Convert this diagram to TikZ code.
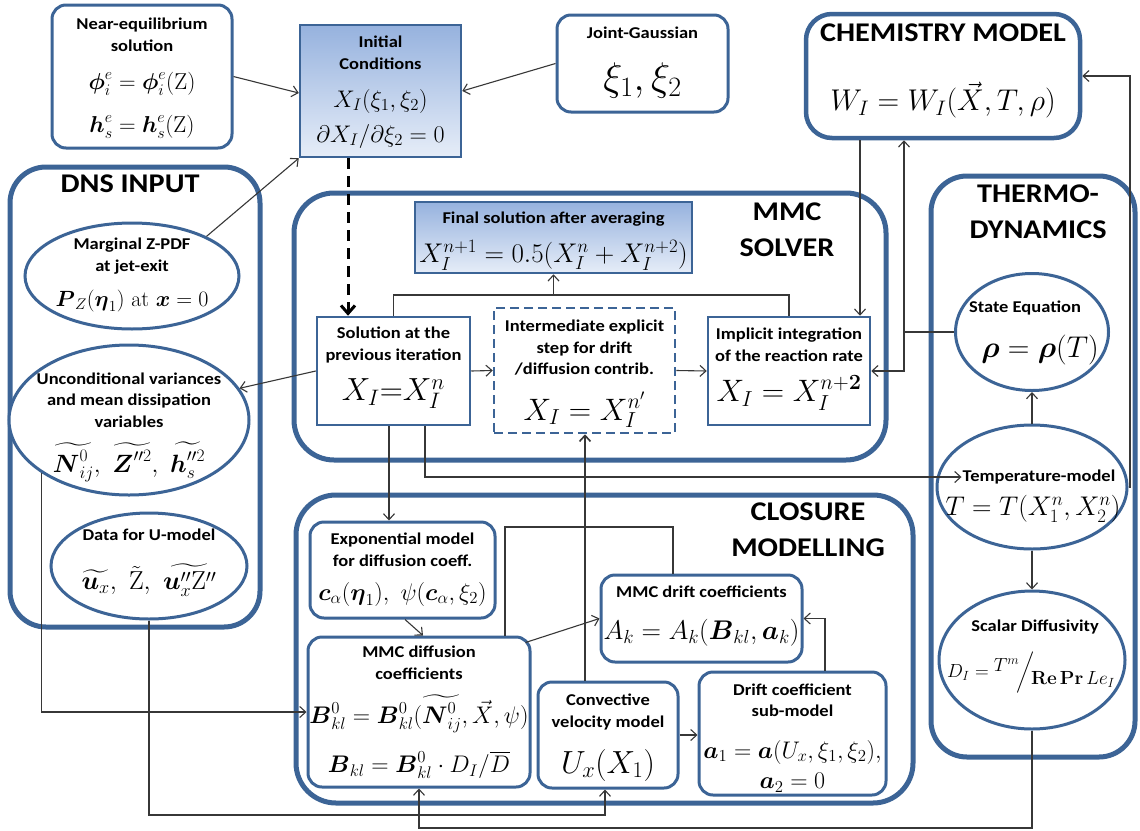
\RequirePackage{fix-cm}
\documentclass[tikz,border=0pt]{standalone}
\usepackage{amsmath}
\usepackage[no-math]{fontspec}
\newfontfamily\labfont{Carlito}[FakeStretch=1.12]
\usetikzlibrary{arrows.meta,shapes.geometric,calc}
\definecolor{bblue}{RGB}{60,100,150}
\definecolor{gtop}{RGB}{150,178,222}
\definecolor{gbot}{RGB}{230,237,248}
\definecolor{lnc}{RGB}{55,55,55}
\begin{document}
\begin{tikzpicture}[x=1pt,y=-1pt,
  bx/.style={draw=bblue, line width=3pt, rounded corners=14pt, fill=white, inner sep=0pt},
  sq/.style={draw=bblue, line width=2.5pt, inner sep=0pt},
  big/.style={draw=bblue, line width=5pt, rounded corners=36pt, inner sep=0pt},
  ell/.style={ellipse, draw=bblue, line width=3pt, fill=white, inner sep=0pt},
  lab/.style={font=\labfont\bfseries\fontsize{16.5}{21.5}\selectfont, align=center, inner sep=1pt},
  head/.style={font=\labfont\bfseries\fontsize{27}{36}\selectfont, align=center, inner sep=1pt},
  eqsize/.style={font=\fontsize{#1}{#1}\selectfont, inner sep=1pt},
  con/.style={draw=lnc, line width=1.1pt},
  arr/.style={con, -{Straight Barb[length=6pt,width=11pt]}}]
\useasboundingbox (0,0) rectangle (1140,830);
\fill[white] (0,0) rectangle (1140,830);

% containers
\node[big, minimum width=250pt, minimum height=460pt] (dns) at (135,397) {};
\node[big, rounded corners=40pt, minimum width=592pt, minimum height=267pt] (mmc) at (590,326.5) {};
\node[big, rounded corners=40pt, minimum width=617pt, minimum height=308pt] (clo) at (604.5,649) {};
\node[big, minimum width=204pt, minimum height=581pt] (thermo) at (1033,466.5) {};
\node[bx, line width=4.5pt, rounded corners=26pt, minimum width=274pt, minimum height=124pt] (chem) at (943,76) {};

% top boxes
\node[bx, minimum width=180pt, minimum height=143pt] (nearq) at (142,76.5) {};
\node[sq, top color=gtop, bottom color=gbot, minimum width=161pt, minimum height=132pt] (init) at (380.5,91) {};
\node[bx, minimum width=171pt, minimum height=97pt] (jg) at (642.5,63.5) {};

% DNS ellipses
\node[ell, minimum width=214pt, minimum height=106pt] (marg) at (132,276) {};
\node[ell, minimum width=240pt, minimum height=150pt] (uncond) at (129,420) {};
\node[ell, minimum width=196pt, minimum height=106pt] (udata) at (149,566) {};

% solver boxes
\node[sq, top color=gtop, bottom color=gbot, minimum width=277pt, minimum height=71pt] (final) at (553.5,237.5) {};
\node[sq, fill=white, minimum width=153pt, minimum height=108pt] (sol) at (393.5,371) {};
\node[sq, fill=white, dash pattern=on 9pt off 5pt, minimum width=181pt, minimum height=125pt] (inter) at (584.5,370.5) {};
\node[sq, fill=white, minimum width=162pt, minimum height=108pt] (impl) at (789,371) {};

% closure boxes
\node[bx, minimum width=185pt, minimum height=96pt] (expo) at (402.5,570) {};
\node[bx, minimum width=222pt, minimum height=150pt] (mdiff) at (419,712) {};
\node[bx, minimum width=201pt, minimum height=87pt] (mdrift) at (701.5,618.5) {};
\node[bx, minimum width=140pt, minimum height=106pt] (conv) at (608,735) {};
\node[bx, minimum width=187pt, minimum height=123pt] (dsub) at (792.5,733.5) {};

% thermo ellipses
\node[ell, minimum width=153pt, minimum height=117pt] (steq) at (1032,332) {};
\node[ell, minimum width=190pt, minimum height=124pt] (temp) at (1032,487) {};
\node[ell, minimum width=186pt, minimum height=138pt] (scal) at (1032,660) {};

% texts
\node[lab] (nearqT) at (142,35) {Near-equilibrium\\solution};
\node[eqsize=23] (nearqE1) at (142,84) {$\boldsymbol{\phi}_i^e=\boldsymbol{\phi}_i^e(\mathrm{Z})$};
\node[eqsize=23] (nearqE2) at (142,127) {$\boldsymbol{h}_s^e=\boldsymbol{h}_s^e(\mathrm{Z})$};
\node[lab] (initT) at (380.5,53) {Initial\\Conditions};
\node[eqsize=24] (initE1) at (380.5,101) {$X_I(\xi_1,\xi_2)$};
\node[eqsize=24] (initE2) at (380.5,136) {$\partial X_I/\partial\xi_2=0$};
\node[lab] (jgT) at (642.5,33) {Joint-Gaussian};
\node[eqsize=40] (jgE) at (642.5,80) {$\xi_1,\xi_2$};
\node[head] (chemT) at (943,33) {CHEMISTRY MODEL};
\node[eqsize=30] (chemE) at (943,100) {$W_I=W_I(\vec{X},T,\rho)$};
\node[head] (dnsT) at (130,184) {DNS INPUT};
\node[lab] (margT) at (132,256) {Marginal Z-PDF\\at jet-exit};
\node[eqsize=22] (margE) at (132,301) {$\boldsymbol{P}_Z(\boldsymbol{\eta}_1)\ \mathrm{at}\ \boldsymbol{x}=0$};
\node[lab] (uncT) at (129,400) {Unconditional variances\\and mean dissipation\\variables};
\node[eqsize=25] (uncE) at (129,462) {$\widetilde{\boldsymbol{N}_{ij}^{0}},\ \widetilde{\boldsymbol{Z}^{\prime\prime 2}},\ \widetilde{\boldsymbol{h}_s^{\prime\prime 2}}$};
\node[lab] (udT) at (149,535) {Data for U-model};
\node[eqsize=26] (udE) at (149,580) {$\widetilde{\boldsymbol{u}_x},\ \tilde{\mathrm{Z}},\ \widetilde{\boldsymbol{u}_x^{\prime\prime}\mathrm{Z}^{\prime\prime}}$};
\node[head] (mmcT) at (787,230) {MMC\\SOLVER};
\node[lab] (finT) at (553.5,219) {Final solution after averaging};
\node[eqsize=27] (finE) at (553.5,255) {$X_I^{n+1}=0.5(X_I^{n}+X_I^{n+2})$};
\node[lab] (solT) at (393.5,345) {Solution at the\\previous iteration};
\node[eqsize=32] (solE) at (393.5,394) {$X_I{=}X_I^n$};
\node[lab] (intT) at (584.5,348) {Intermediate explicit\\step for drift\\/diffusion contrib.};
\node[eqsize=31] (intE) at (584.5,410) {$X_I=X_I^{n'}$};
\node[lab] (impT) at (789,345) {Implicit integration\\of the reaction rate};
\node[eqsize=31] (impE) at (789,393) {$X_I=X_I^{n+\mathbf{2}}$};
\node[head] (cloT) at (808,530) {CLOSURE\\MODELLING};
\node[lab] (expT) at (402.5,550) {Exponential model\\for diffusion coeff.};
\node[eqsize=24] (expE) at (402.5,594) {$\boldsymbol{c}_\alpha(\boldsymbol{\eta}_1),\ \psi(\boldsymbol{c}_\alpha,\xi_2)$};
\node[lab] (mdfT) at (419,663) {MMC diffusion\\coefficients};
\node[eqsize=24] (mdfE1) at (419,714) {$\boldsymbol{B}_{kl}^0=\boldsymbol{B}_{kl}^0(\widetilde{\boldsymbol{N}_{ij}^0},\vec{X},\psi)$};
\node[eqsize=24] (mdfE2) at (419,765) {$\boldsymbol{B}_{kl}=\boldsymbol{B}_{kl}^0\cdot D_I/\overline{D}$};
\node[lab] (mdrT) at (701.5,592) {MMC drift coefficients};
\node[eqsize=27] (mdrE) at (701.5,633) {$A_k=A_k(\boldsymbol{B}_{kl},\boldsymbol{a}_k)$};
\node[lab] (cnvT) at (608,712) {Convective\\velocity model};
\node[eqsize=32] (cnvE) at (608,765) {$U_x(X_1)$};
\node[lab] (dsT) at (792.5,700) {Drift coefficient\\sub-model};
\node[eqsize=24] (dsE1) at (792.5,752) {$\boldsymbol{a}_1=\boldsymbol{a}(U_x,\xi_1,\xi_2),$};
\node[eqsize=24] (dsE2) at (792.5,783) {$\boldsymbol{a}_2=0$};
\node[head] (thT) at (1038,212) {THERMO-\\DYNAMICS};
\node[lab] (stT) at (1025,308) {State Equation};
\node[eqsize=30] (stE) at (1040,350) {$\boldsymbol{\rho}=\boldsymbol{\rho}(T)$};
\node[lab] (tmT) at (1039,477) {Temperature-model};
\node[eqsize=27] (tmE) at (1033,509) {$T=T(X_1^n,X_2^n)$};
\node[lab] (scT) at (1035,627) {Scalar Diffusivity};
\node[eqsize=19] (scE) at (1031,673) {$D_I=\raisebox{6pt}{$T^m$}\!\bigg/\!\raisebox{-7pt}{$\mathbf{Re}\,\mathbf{Pr}\,Le_I$}$};

% helper coordinates
\coordinate (d1) at ([xshift=-32.5pt]init.south);
\coordinate (top) at (553.5,295);
\coordinate (c389) at ([xshift=-4.5pt]sol.south);
\coordinate (c425) at ([xshift=31.5pt]sol.south);
\coordinate (c860) at ([xshift=-83pt]chem.south);
\coordinate (jn) at (904,332);
\coordinate (rt) at (1130,0);
\coordinate (hb) at (585,527);
\coordinate (c505) at ([xshift=86pt]mdiff.north);
\coordinate (c673) at ([xshift=-28.5pt]mdrift.north);
\coordinate (c585) at ([xshift=-23pt]conv.north);
\coordinate (c825) at ([xshift=32.5pt]dsub.north);
\coordinate (cv) at ([xshift=-3pt]conv.south);
\coordinate (bl1) at (0,815);
\coordinate (bl2) at (0,828);

% connectors
\draw[arr] (nearq.east) -- ([yshift=-2pt]init.west);
\draw[arr] (jg.west) -- (init.east);
\draw[arr] (marg.28) -- (init.south west);
\draw[line width=3pt, dash pattern=on 11pt off 7pt, -{Straight Barb[length=8pt,width=14pt]}] (d1) -- (d1 |- sol.north);
\draw[arr] (sol.east) -- (inter.west);
\draw[arr] (inter.east) -- (impl.west);
\draw[con] (sol.north) -- (sol.north |- top) -- (impl.north |- top) -- (impl.north);
\draw[arr] (top) -- (final.south);
\draw[arr] (sol.west) -- (uncond.16);
\draw[arr] (c389) -- (c389 |- expo.north);
\draw[arr] (c425) -- (c425 |- tmT.west) -- (tmT.west);
\draw[arr] (c860) -- (c860 |- impl.north);
\draw[con] (steq.west) -- (jn);
\draw[arr] (jn) -- (jn |- chem.south);
\draw[arr] (jn) -- (jn |- impl.east) -- (impl.east);
\draw[arr] (temp.north) -- (steq.south);
\draw[arr] (temp.south) -- (scal.north);
\draw[arr] (temp.east) -- (temp.east -| rt) -- (rt |- chem.east) -- (chem.east);
\draw[arr] ([xshift=2.5pt]expo.south) -- ([xshift=4pt]mdiff.north);
\draw[arr] ([xshift=-6pt,yshift=-7pt]mdiff.north east) -- (mdrift.west);
\draw[con] (c505) -- (c505 |- hb) -- (c673 |- hb) -- (c673);
\draw[con, line width=1.6pt, -{Straight Barb[length=6pt,width=11pt]}] (c585) -- (c585 |- inter.south);
\draw[arr] (c825) -- (c825 |- mdrift.east) -- (mdrift.east);
\draw[arr] (conv.east) -- (conv.east -| dsub.west);
\draw[arr] (uncond.211) -- (uncond.211 |- mdiff.west) -- (mdiff.west);
\draw[arr] (udata.south) -- (udata.south |- bl1) -- (cv |- bl1) -- (cv);
\draw[arr] (scal.south) -- (scal.south |- bl2) -- (mdiff.south |- bl2) -- (mdiff.south);
\end{tikzpicture}
\end{document}
